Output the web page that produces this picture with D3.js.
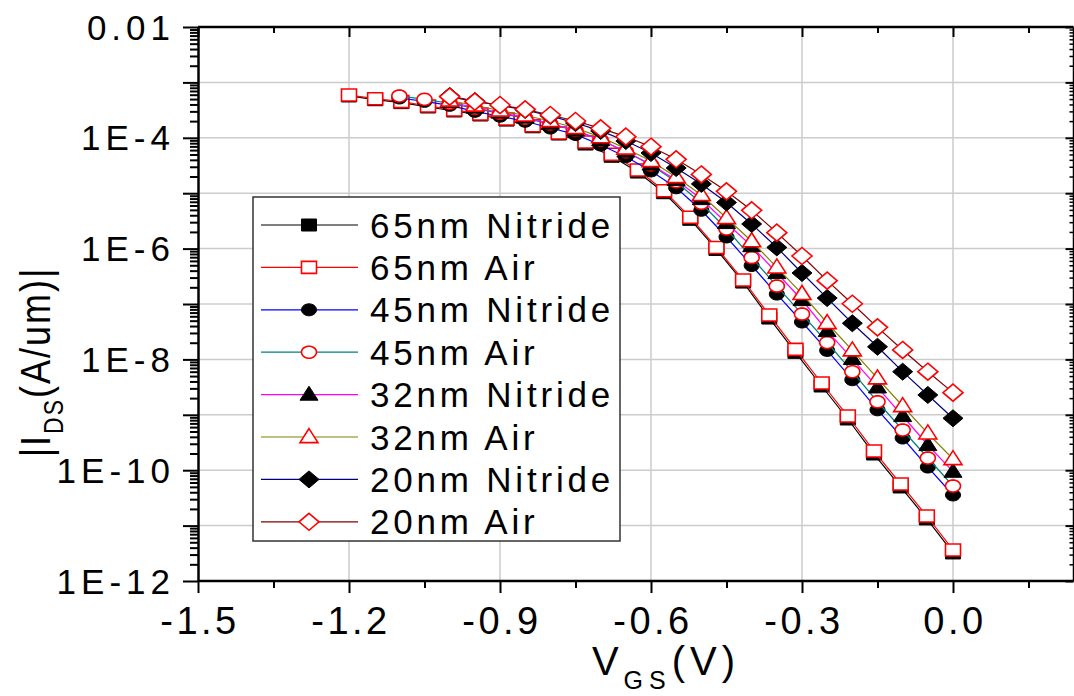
<!DOCTYPE html>
<html>
<head>
<meta charset="utf-8">
<script src="https://cdn.jsdelivr.net/npm/d3@7"></script>
<style>
  body { margin: 0; background: #fff; }
  svg { display: block; }
  text { font-family: "Liberation Sans", Arial, sans-serif; fill: #000; }
</style>
</head>
<body>
<svg id="chart" width="1074" height="696"></svg>
<script>
// Gate voltage sweeps (V)
const vgs65 = [-1.2, -1.148, -1.096, -1.043, -0.991, -0.939, -0.887, -0.835, -0.783, -0.730, -0.678, -0.626,
               -0.574, -0.522, -0.470, -0.417, -0.365, -0.313, -0.261, -0.209, -0.157, -0.104, -0.052, 0.0];
const vgs45 = [-1.10, -1.05, -1.00, -0.95, -0.90, -0.85, -0.80, -0.75, -0.70, -0.65, -0.60, -0.55,
               -0.50, -0.45, -0.40, -0.35, -0.30, -0.25, -0.20, -0.15, -0.10, -0.05, 0.00];
const vgs32 = [-1.00, -0.95, -0.90, -0.85, -0.80, -0.75, -0.70, -0.65, -0.60, -0.55,
               -0.50, -0.45, -0.40, -0.35, -0.30, -0.25, -0.20, -0.15, -0.10, -0.05, 0.00];
const vgs20 = vgs32;

// |Ids| (A/um)
const ids65Nitride = [5.69e-4, 4.87e-4, 4.31e-4, 3.60e-4, 3.05e-4, 2.58e-4, 2.09e-4, 1.58e-4, 1.17e-4, 7.72e-5,
                      4.64e-5, 2.41e-5, 1.02e-5, 3.38e-6, 9.66e-7, 2.49e-7, 5.58e-8, 1.34e-8, 3.31e-9, 8.40e-10,
                      1.96e-10, 4.98e-11, 1.32e-11, 3.21e-12];
const ids65Air     = [5.93e-4, 5.08e-4, 4.49e-4, 3.75e-4, 3.18e-4, 2.69e-4, 2.18e-4, 1.65e-4, 1.22e-4, 8.39e-5,
                      5.04e-5, 2.62e-5, 1.11e-5, 3.67e-6, 1.05e-6, 2.71e-7, 6.32e-8, 1.52e-8, 3.75e-9, 9.51e-10,
                      2.22e-10, 5.64e-11, 1.49e-11, 3.63e-12];
const ids45Nitride = [5.23e-4, 4.55e-4, 3.86e-4, 3.00e-4, 2.45e-4, 1.99e-4, 1.50e-4, 1.15e-4, 7.41e-5, 4.56e-5,
                      2.52e-5, 1.25e-5, 4.92e-6, 1.62e-6, 4.95e-7, 1.51e-7, 4.73e-8, 1.45e-8, 4.30e-9, 1.23e-9,
                      3.81e-10, 1.14e-10, 3.57e-11];
const ids45Air     = [5.69e-4, 4.95e-4, 4.20e-4, 3.40e-4, 2.77e-4, 2.25e-4, 1.77e-4, 1.36e-4, 9.12e-5, 5.61e-5,
                      3.23e-5, 1.61e-5, 6.58e-6, 2.26e-6, 6.90e-7, 2.11e-7, 6.59e-8, 2.02e-8, 6.00e-9, 1.72e-9,
                      5.32e-10, 1.66e-10, 5.19e-11];
const ids32Nitride = [4.43e-4, 3.52e-4, 2.86e-4, 2.33e-4, 1.81e-4, 1.36e-4, 9.12e-5, 5.66e-5, 3.30e-5, 1.73e-5,
                      7.85e-6, 2.90e-6, 1.11e-6, 3.63e-7, 1.18e-7, 3.26e-8, 1.02e-8, 3.13e-9, 9.51e-10, 2.85e-10,
                      9.40e-11];
const ids32Air     = [4.71e-4, 3.83e-4, 3.11e-4, 2.53e-4, 2.01e-4, 1.50e-4, 1.03e-4, 6.41e-5, 3.81e-5, 1.96e-5,
                      9.29e-6, 3.56e-6, 1.36e-6, 4.59e-7, 1.52e-7, 4.54e-8, 1.46e-8, 4.56e-9, 1.44e-9, 4.63e-10,
                      1.59e-10];
const ids20Nitride = [5.69e-4, 4.61e-4, 3.85e-4, 3.18e-4, 2.48e-4, 1.85e-4, 1.33e-4, 8.75e-5, 5.32e-5, 2.85e-5,
                      1.47e-5, 6.79e-6, 2.78e-6, 1.05e-6, 3.63e-7, 1.28e-7, 4.49e-8, 1.69e-8, 6.00e-9, 2.28e-9,
                      8.65e-10];
const ids20Air     = [5.52e-4, 4.49e-4, 3.91e-4, 3.27e-4, 2.58e-4, 2.01e-4, 1.48e-4, 1.05e-4, 6.90e-5, 4.09e-5,
                      2.18e-5, 1.08e-5, 4.91e-6, 1.94e-6, 7.35e-7, 2.64e-7, 1.01e-7, 3.79e-8, 1.48e-8, 6.00e-9,
                      2.51e-9];

const seriesNames = ["65nm Nitride", "65nm Air", "45nm Nitride", "45nm Air",
                     "32nm Nitride", "32nm Air", "20nm Nitride", "20nm Air"];
const xTickValues = [-1.5, -1.2, -0.9, -0.6, -0.3, 0.0];
const xTickLabels = ["-1.5", "-1.2", "-0.9", "-0.6", "-0.3", "0.0"];
const yTickValues = [1e-12, 1e-10, 1e-8, 1e-6, 1e-4, 1e-2];
const yTickLabels = ["1E-12", "1E-10", "1E-8", "1E-6", "1E-4", "0.01"];

// Plot styling per series
const seriesStyle = [
  { line: "#000000", shape: "square",   filled: true  },
  { line: "#ff0000", shape: "square",   filled: false },
  { line: "#0000ff", shape: "circle",   filled: true  },
  { line: "#008080", shape: "circle",   filled: false },
  { line: "#ff00ff", shape: "triangle", filled: true  },
  { line: "#808000", shape: "triangle", filled: false },
  { line: "#000080", shape: "diamond",  filled: true  },
  { line: "#800000", shape: "diamond",  filled: false }
];
const xData = [vgs65, vgs65, vgs45, vgs45, vgs32, vgs32, vgs20, vgs20];
const yData = [ids65Nitride, ids65Air, ids45Nitride, ids45Air, ids32Nitride, ids32Air, ids20Nitride, ids20Air];

const svg = d3.select("#chart");
const plotL = 198, plotR = 1073.5, plotT = 27, plotB = 581;

const x = d3.scaleLinear().domain([-1.5, 0.24]).range([plotL, plotL + 1.74 * 503.33]);
const y = d3.scaleLog().domain([1e-12, 1e-2]).range([plotB, plotT]);

// grid
const grid = svg.append("g").attr("stroke", "#cccccc").attr("stroke-width", 1.5);
const decades = d3.range(-11, -2).map(e => Math.pow(10, e));
grid.selectAll("line.h").data(decades).join("line").attr("class", "h")
  .attr("x1", plotL).attr("x2", plotR)
  .attr("y1", d => y(d)).attr("y2", d => y(d));
grid.selectAll("line.v").data(xTickValues.slice(1)).join("line").attr("class", "v")
  .attr("x1", d => x(d)).attr("x2", d => x(d))
  .attr("y1", plotT).attr("y2", plotB);

// tick positions
const allDecades = d3.range(-12, -1).map(e => Math.pow(10, e));
const minorY = [];
d3.range(-12, -2).forEach(e => { for (let k = 2; k <= 9; k++) minorY.push(k * Math.pow(10, e)); });
const majorX = [-1.5, -1.2, -0.9, -0.6, -0.3, 0.0];
const minorX = [-1.35, -1.05, -0.75, -0.45, -0.15, 0.15];

function styleAxis(g, w) {
  g.selectAll(".domain").attr("stroke", "#000").attr("stroke-width", w);
  g.selectAll(".tick line").attr("stroke", "#000").attr("stroke-width", 2);
  g.selectAll(".tick text").remove();
}

// left axis
svg.append("g").attr("transform", `translate(${plotL},0)`)
  .call(d3.axisLeft(y).tickValues(minorY).tickSize(8).tickSizeOuter(0).tickFormat(""))
  .call(g => styleAxis(g, 2.5));
svg.append("g").attr("transform", `translate(${plotL},0)`)
  .call(d3.axisLeft(y).tickValues(allDecades).tickSize(15).tickSizeOuter(0).tickFormat(""))
  .call(g => { styleAxis(g, 2.5); g.select(".domain").remove(); });

// right axis (inward ticks)
svg.append("g").attr("transform", `translate(${plotR},0)`)
  .call(d3.axisRight(y).tickValues(minorY).tickSize(-4).tickSizeOuter(0).tickFormat(""))
  .call(g => { styleAxis(g, 2.5); g.selectAll(".tick line").attr("stroke-width", 1.5); });
svg.append("g").attr("transform", `translate(${plotR},0)`)
  .call(d3.axisRight(y).tickValues(allDecades).tickSize(-8).tickSizeOuter(0).tickFormat(""))
  .call(g => { styleAxis(g, 2.5); g.select(".domain").remove(); });

// bottom axis
svg.append("g").attr("transform", `translate(0,${plotB})`)
  .call(d3.axisBottom(x).tickValues(minorX).tickSize(7).tickSizeOuter(0).tickFormat(""))
  .call(g => { styleAxis(g, 2.5); g.select(".domain").attr("d", `M${plotL},0H${plotR}`); });
svg.append("g").attr("transform", `translate(0,${plotB})`)
  .call(d3.axisBottom(x).tickValues(majorX).tickSize(12).tickSizeOuter(0).tickFormat(""))
  .call(g => { styleAxis(g, 2.5); g.select(".domain").remove(); });

// top axis (inward ticks)
svg.append("g").attr("transform", `translate(0,${plotT})`)
  .call(d3.axisTop(x).tickValues(minorX).tickSize(-6).tickSizeOuter(0).tickFormat(""))
  .call(g => { styleAxis(g, 2.5); g.select(".domain").attr("d", `M${plotL},0H${plotR}`); });
svg.append("g").attr("transform", `translate(0,${plotT})`)
  .call(d3.axisTop(x).tickValues(majorX).tickSize(-10).tickSizeOuter(0).tickFormat(""))
  .call(g => { styleAxis(g, 2.5); g.select(".domain").remove(); });

// tick labels (spaced glyphs)
svg.append("g").selectAll("text").data(yTickValues).join("text")
  .attr("x", 175).attr("y", d => y(d))
  .attr("text-anchor", "end").attr("dy", "0.36em")
  .attr("letter-spacing", 5)
  .style("font-size", "35px")
  .text((d, i) => yTickLabels[i]);

svg.append("g").selectAll("text").data(xTickValues).join("text")
  .attr("x", d => x(d) + 2).attr("y", 634)
  .attr("text-anchor", "middle")
  .attr("letter-spacing", 3.5)
  .style("font-size", "38px")
  .text((d, i) => xTickLabels[i]);

// axis titles
const xt = svg.append("text").attr("x", 666).attr("y", 675)
  .attr("text-anchor", "middle").attr("letter-spacing", 5).style("font-size", "40px");
xt.append("tspan").text("V");
xt.append("tspan").attr("dy", 14).style("font-size", "25px").attr("letter-spacing", 6).text("GS");
xt.append("tspan").attr("dy", -14).text("(V)");

const yt = svg.append("g").attr("transform", `translate(50,362) scale(1.2,1) rotate(-90)`)
  .append("text").attr("text-anchor", "middle").attr("letter-spacing", 2).style("font-size", "36px");
yt.append("tspan").text("|I");
yt.append("tspan").attr("dy", 11).style("font-size", "23px").text("DS");
yt.append("tspan").attr("dy", -11).text("(A/um)|");

// marker path builders (w x h)
const markerDims = {
  square:   [15, 12],
  circle:   [15, 12],
  triangle: [18, 14],
  diamond:  [20, 17]
};
function markerPath(shape) {
  const [w, h] = markerDims[shape];
  const p = d3.path();
  if (shape === "square") {
    p.rect(-w / 2, -h / 2, w, h);
  } else if (shape === "circle") {
    const n = 32;
    for (let i = 0; i <= n; i++) {
      const a = (i / n) * 2 * Math.PI;
      const px = (w / 2) * Math.cos(a), py = (h / 2) * Math.sin(a);
      if (i === 0) p.moveTo(px, py); else p.lineTo(px, py);
    }
    p.closePath();
  } else if (shape === "triangle") {
    p.moveTo(0, -h * 0.6); p.lineTo(w / 2, h * 0.4); p.lineTo(-w / 2, h * 0.4); p.closePath();
  } else {
    p.moveTo(0, -h / 2); p.lineTo(w / 2, 0); p.lineTo(0, h / 2); p.lineTo(-w / 2, 0); p.closePath();
  }
  return p.toString();
}

function drawMarker(sel, st) {
  sel.attr("d", markerPath(st.shape))
    .attr("fill", st.filled ? "#000" : "#fff")
    .attr("stroke", st.filled ? "#000" : "#ff0000")
    .attr("stroke-width", st.filled ? 1 : 1.6);
}

// series
const line = d3.line().x(d => x(d[0])).y(d => y(d[1]));
seriesNames.forEach((name, i) => {
  const st = seriesStyle[i];
  const pts = xData[i].map((v, k) => [v, yData[i][k]]);
  const g = svg.append("g").attr("class", "series");
  g.append("path").datum(pts).attr("d", line)
    .attr("fill", "none").attr("stroke", st.line).attr("stroke-width", 1.2);
  g.selectAll("path.m").data(pts).join("path").attr("class", "m")
    .attr("transform", d => `translate(${x(d[0])},${y(d[1])})`)
    .call(s => drawMarker(s, st));
});

// legend
const lg = svg.append("g");
lg.append("rect").attr("x", 253).attr("y", 197).attr("width", 367).attr("height", 344)
  .attr("fill", "#fff").attr("stroke", "#333").attr("stroke-width", 1.5);
seriesNames.forEach((name, i) => {
  const st = seriesStyle[i];
  const cy = 225 + i * 42.4;
  lg.append("line").attr("x1", 261).attr("x2", 358).attr("y1", cy).attr("y2", cy)
    .attr("stroke", st.line).attr("stroke-width", 1.2);
  lg.append("path").attr("transform", `translate(309,${cy})`).call(s => drawMarker(s, st));
  lg.append("text").attr("x", 370).attr("y", cy).attr("dy", "0.36em")
    .attr("letter-spacing", 3.8).style("font-size", "35px").text(name);
});
</script>
</body>
</html>
